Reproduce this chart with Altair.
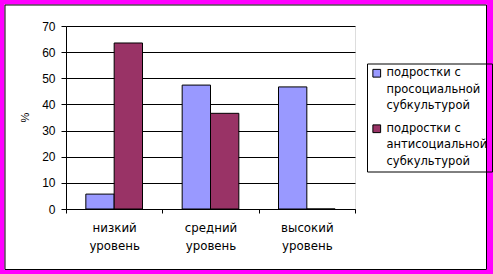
import altair as alt
import pandas as pd

categories = ["низкий уровень", "средний уровень", "высокий уровень"]
series = ["подростки с просоциальной субкультурой", "подростки с антисоциальной субкультурой"]
prosocial = [5.7, 47.4, 46.7]
antisocial = [63.5, 36.6, 0.0]
y_ticks = [0, 10, 20, 30, 40, 50, 60, 70]
colors = ["#9999FF", "#993366"]

rows = []
for i, c in enumerate(categories):
    rows.append({"cat": c, "series": series[0], "value": prosocial[i]})
    rows.append({"cat": c, "series": series[1], "value": antisocial[i]})
df = pd.DataFrame(rows)

FONT = "Liberation Sans"
TFONT = "DejaVu Sans"

bars = alt.Chart(df).mark_bar(stroke="black", strokeWidth=1).encode(
    x=alt.X("cat:N", sort=categories,
            scale=alt.Scale(paddingInner=0, paddingOuter=0),
            axis=alt.Axis(title=None, labelAngle=0, tickBand="extent", tickSize=4,
                          tickColor="black", domainColor="black",
                          labelExpr="split(datum.label, ' ')",
                          labelLineHeight=18, labelPadding=9,
                          labelFont=TFONT, labelFontSize=11.8, labelColor="black")),
    xOffset=alt.XOffset("series:N", sort=series,
                        scale=alt.Scale(paddingInner=0, paddingOuter=0.7)),
    y=alt.Y("value:Q", scale=alt.Scale(domain=[0, 70], nice=False),
            axis=alt.Axis(title="%", values=y_ticks, tickSize=5, tickColor="black",
                          domainColor="black", gridColor="black", grid=True,
                          labelPadding=6, labelFont=FONT, labelFontSize=12,
                          labelColor="black", titleFont=FONT, titleFontSize=11,
                          titleFontWeight="normal", titleColor="black",
                          titleX=-41, titleY=91, titleAngle=-90,
                          titleAlign="center", titleBaseline="middle")),
    color=alt.Color("series:N", sort=series,
                    scale=alt.Scale(domain=series, range=colors),
                    legend=alt.Legend(title=None, orient="none", legendX=301, legendY=37.5,
                                      strokeColor="black", padding=4,
                                      symbolType="square", symbolSize=60,
                                      symbolStrokeColor="black", symbolStrokeWidth=1,
                                      labelFont=TFONT, labelFontSize=11.5, labelColor="black",
                                      labelOffset=4, rowPadding=9.5,
                                      labelLimit=200,
                                      labelExpr="[join(slice(split(datum.label, ' '), 0, 2), ' '), split(datum.label, ' ')[2], split(datum.label, ' ')[3]]")),
)

frame_data = alt.Data(values=[{"k": 1}])
magenta = alt.Chart(frame_data).mark_rect(filled=False, stroke="#FF00FF", strokeWidth=10).encode(
    x=alt.value(-66.5), x2=alt.value(426), y=alt.value(-26.5), y2=alt.value(249))
black = alt.Chart(frame_data).mark_rect(filled=False, stroke="black", strokeWidth=1).encode(
    x=alt.value(-61), x2=alt.value(420.5), y=alt.value(-21), y2=alt.value(243.5))

chart = alt.layer(bars, magenta, black).properties(
    width=289, height=183,
    autosize=alt.AutoSizeParams(type="none"),
    padding={"left": 66, "top": 26, "right": 138, "bottom": 65},
    background="white",
).configure_view(
    fill="#C0C0C0", stroke="#808080", strokeWidth=1
).configure(style={"guide-label": {"lineHeight": 16.5}})

chart.save("out.html", embed_options={"renderer": "svg", "actions": False})
